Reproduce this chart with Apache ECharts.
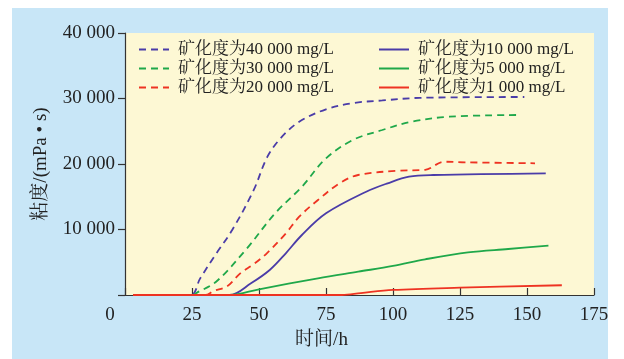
<!DOCTYPE html>
<html>
<head>
<meta charset="utf-8">
<script src="https://cdn.jsdelivr.net/npm/echarts@6/dist/echarts.min.js"></script>
<style>
html,body{margin:0;padding:0;background:#ffffff;}
#c{width:624px;height:359px;}
</style>
</head>
<body>
<div id="c"></div>
<script>
// ---- data ----
const seriesNames = ['矿化度为40 000 mg/L','矿化度为30 000 mg/L','矿化度为20 000 mg/L','矿化度为10 000 mg/L','矿化度为5 000 mg/L','矿化度为1 000 mg/L'];
const t40k = [3, 24.5, 28, 34, 40, 48, 53, 58, 65, 75, 85, 96, 110, 149];
const v40k = [0, 0, 2500, 6300, 9920, 16000, 21000, 23900, 26460, 28350, 29300, 29700, 30100, 30230];
const t30k = [3, 25, 27, 34, 45, 56, 66, 75, 85, 96, 107, 121, 146];
const v30k = [0, 0, 400, 2030, 6870, 12470, 16530, 20870, 23660, 25190, 26460, 27220, 27480];
const t20k = [3, 30, 33, 38, 43, 48, 53, 60, 65, 72, 80, 87, 102, 112, 119, 127, 153];
const v20k = [0, 0, 600, 1300, 3300, 4700, 6400, 9400, 11950, 14500, 17050, 18320, 18980, 19100, 20350, 20260, 20110];
const t10k = [3, 39, 47, 54, 60, 66, 75, 90, 98, 106, 115, 157];
const v10k = [0, 0, 1790, 3820, 6370, 9160, 12470, 15770, 17050, 18060, 18320, 18580];
const t5k = [3, 39, 50, 72, 87, 100, 112, 128, 143, 158];
const v5k = [0, 0, 870, 2550, 3560, 4430, 5450, 6520, 7020, 7530];
const t1k = [3, 81, 88, 100, 125, 163];
const v1k = [0, 0, 300, 770, 1120, 1490];
const xTicks = [0, 25, 50, 75, 100, 125, 150, 175];
const yTicks = [0, 10000, 20000, 30000, 40000];

const colors = ['#4a3ca8', '#1fa84a', '#ee3322', '#4a3ca8', '#1fa84a', '#ee3322'];
const dashed = [true, true, true, false, false, false];
const tArr = [t40k, t30k, t20k, t10k, t5k, t1k];
const vArr = [v40k, v30k, v20k, v10k, v5k, v1k];

const serif = "'Liberation Serif','Noto Serif CJK SC','Noto Sans CJK SC',serif";

function fmtThousands(v){
  const s = String(Math.round(v));
  return s.replace(/\B(?=(\d{3})+(?!\d))/g, ' ');
}

const series = seriesNames.map((n, i) => ({
  name: n,
  type: 'line',
  data: tArr[i].map((t, j) => [t, vArr[i][j]]),
  showSymbol: false,
  symbol: 'none',
  smooth: 0.35,
  lineStyle: { color: colors[i], width: 1.8, type: dashed[i] ? [7, 5] : 'solid' },
  itemStyle: { color: colors[i], opacity: 0 },
  z: 3
}));

const legendCommon = {
  orient: 'vertical',
  padding: 0,
  itemWidth: 30,
  itemHeight: 14,
  itemGap: 2,
  itemStyle: { opacity: 0 },
  textStyle: { fontFamily: serif, fontSize: 17, lineHeight: 16, color: '#222', padding: [0, 0, 0, 4] }
};

const chart = echarts.init(document.getElementById('c'), null, { renderer: 'canvas' });
chart.setOption({
  animation: false,
  backgroundColor: '#ffffff',
  graphic: [{
    type: 'rect', z: -10, silent: true,
    shape: { x: 12, y: 8, width: 596, height: 351 },
    style: { fill: '#c8e6f7' }
  }],
  grid: {
    left: 125, right: 30, top: 33, bottom: 64,
    show: true, backgroundColor: '#fdf8d4', borderWidth: 0
  },
  legend: [
    Object.assign({}, legendCommon, { left: 138, top: 41, data: seriesNames.slice(0, 3) }),
    Object.assign({}, legendCommon, { left: 378, top: 41, data: seriesNames.slice(3) })
  ],
  xAxis: {
    type: 'value',
    min: xTicks[0], max: xTicks[xTicks.length - 1], interval: 25,
    name: '时间/h',
    nameLocation: 'middle',
    nameGap: 36,
    nameMoveOverlap: false,
    nameTextStyle: { fontFamily: serif, fontSize: 19, color: '#222', padding: [0, 76, 0, 0] },
    axisLine: { show: true, onZero: false, lineStyle: { color: '#333', width: 1.2 } },
    axisTick: { show: true, inside: true, length: 7, lineStyle: { color: '#333', width: 1.2 } },
    splitLine: { show: false },
    axisLabel: {
      margin: 11,
      fontFamily: serif, fontSize: 19, color: '#222',
      formatter: v => v === 0 ? '{z|0}' : String(v),
      rich: { z: { fontFamily: serif, fontSize: 19, color: '#222', padding: [0, 30, 0, 0] } }
    }
  },
  yAxis: {
    type: 'value',
    min: yTicks[0], max: yTicks[yTicks.length - 1], interval: 10000,
    name: '粘度/(mPa • s)',
    nameLocation: 'middle',
    nameGap: 74,
    nameMoveOverlap: false,
    nameTextStyle: { fontFamily: serif, fontSize: 19, color: '#222' },
    axisLine: { show: true, lineStyle: { color: '#333', width: 1.2 } },
    axisTick: { show: true, inside: false, length: 7, lineStyle: { color: '#333', width: 1.2 } },
    splitLine: { show: false },
    axisLabel: {
      margin: 10,
      fontFamily: serif, fontSize: 19, color: '#222',
      formatter: v => v === 0 ? '' : fmtThousands(v)
    }
  },
  series: series
});
</script>
</body>
</html>
